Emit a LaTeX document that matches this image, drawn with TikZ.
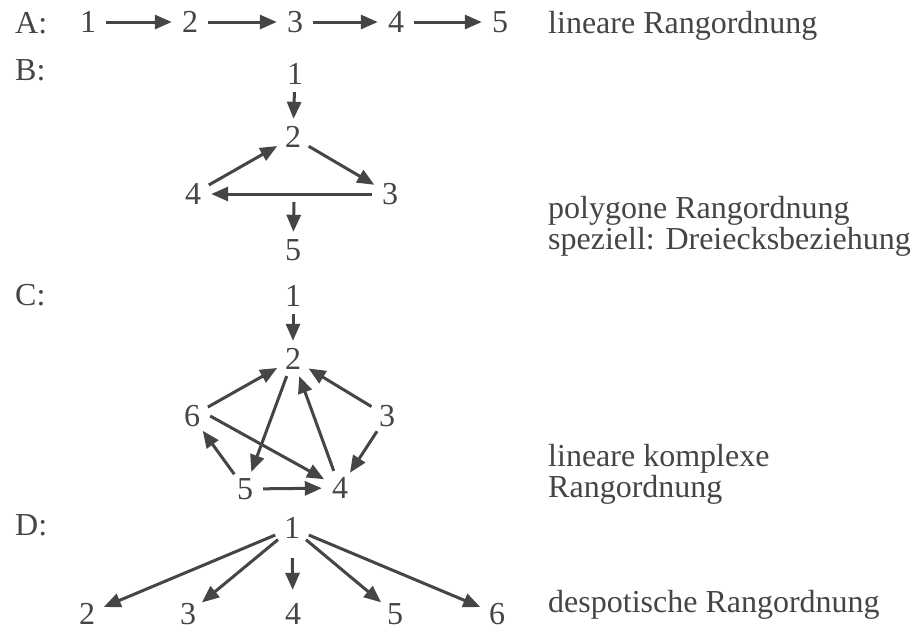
\documentclass[tikz,border=0pt]{standalone}
\usepackage{fontspec}
\setmainfont{Liberation Serif}
\usetikzlibrary{arrows.meta}
\definecolor{ink}{HTML}{454545}
\begin{document}
\begin{tikzpicture}[x=1pt,y=-1pt,
  num/.style={circle,minimum size=36pt,inner sep=0pt,font=\fontsize{32}{32}\selectfont,text=ink},
  lbl/.style={anchor=base west,inner sep=0pt,font=\fontsize{32}{32}\selectfont,text=ink},
  arr/.style={draw=ink,line width=3pt,-{Triangle[length=17pt,width=14pt]}},
]
\useasboundingbox[fill=white] (0,0) rectangle (912,633);

% A
\node[lbl] (LA) at (15,33) {A:};
\node[num] (a1) at (88,22) {1};
\node[num] (a2) at (190,22) {2};
\node[num] (a3) at (295,22) {3};
\node[num] (a4) at (396,22) {4};
\node[num] (a5) at (500,22) {5};
\draw[arr] (a1) -- (a2);
\draw[arr] (a2) -- (a3);
\draw[arr] (a3) -- (a4);
\draw[arr] (a4) -- (a5);
\node[lbl] (tA) at (548,33) {lineare Rangordnung};

% B
\node[lbl] (LB) at (15,80) {B:};
\node[num] (b1) at (295,74) {1};
\node[num] (b2) at (293,137) {2};
\node[num] (b4) at (193,194) {4};
\node[num] (b3) at (390,194) {3};
\node[num] (b5) at (293,250) {5};
\coordinate (bm) at (294,202);
\draw[arr] (b1) -- (b2);
\draw[arr] (b4) -- (b2);
\draw[arr] (b2) -- (b3);
\draw[arr] (b3) -- (b4);
\draw[arr] (bm) -- (b5);
\node[lbl] (tB1) at (548,218) {polygone Rangordnung};
\node[lbl] (tB2) at (548,249) {speziell: Dreiecksbeziehung};

% C
\node[lbl] (LC) at (15,305) {C:};
\node[num] (c1) at (293,296) {1};
\node[num] (c2) at (293,359) {2};
\node[num] (c6) at (192,416) {6};
\node[num] (c3) at (387,416) {3};
\node[num] (c5) at (245,489) {5};
\node[num] (c4) at (340,488) {4};
\draw[arr] (c1) -- (c2);
\draw[arr] (c6) -- (c2);
\draw[arr] (c2) -- (c5);
\draw[arr] (c4) -- (c2);
\draw[arr] (c3) -- (c2);
\draw[arr] (c6.east) -- (c4);
\draw[arr] (c3) -- (c4);
\draw[arr] (c5) -- (c6);
\draw[arr] (c5) -- (c4);
\node[lbl] (tC1) at (548,466) {lineare komplexe};
\node[lbl] (tC2) at (548,497) {Rangordnung};

% D
\node[lbl] (LD) at (15,535) {D:};
\node[num] (d1) at (292,528) {1};
\node[num] (d2) at (87,614) {2};
\node[num] (d3) at (188,614) {3};
\node[num] (d4) at (293,614) {4};
\node[num] (d5) at (395,614) {5};
\node[num] (d6) at (497,614) {6};
\draw[arr] (d1) -- (d2);
\draw[arr] (d1) -- (d3);
\draw[arr,shorten <=12pt,shorten >=6pt] (d1) -- (d4);
\draw[arr] (d1) -- (d5);
\draw[arr] (d1) -- (d6);
\node[lbl] (tD) at (548,612) {despotische Rangordnung};
\end{tikzpicture}
\end{document}
